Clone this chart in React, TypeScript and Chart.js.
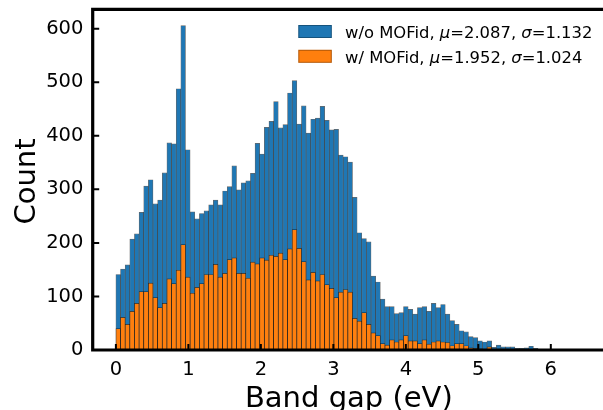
import React, { useEffect, useRef } from "react";
import { Chart, registerables } from "chart.js";

Chart.register(...registerables);

// Histogram bins
const BIN_START = 0;
const BIN_WIDTH = 0.064;

// Counts per bin (100 bins from 0 to 6.4 eV)
const COUNTS_WITHOUT_MOFID = [
  141, 151, 159, 207, 217, 257, 306, 318, 273, 280,
  331, 387, 385, 488, 606, 374, 258, 245, 255, 260,
  271, 280, 271, 297, 305, 344, 299, 312, 316, 330,
  386, 366, 416, 427, 464, 415, 421, 480, 503, 422,
  456, 405, 431, 433, 455, 429, 411, 412, 364, 361,
  351, 285, 219, 208, 202, 138, 127, 95, 81, 81,
  68, 70, 81, 76, 67, 79, 81, 72, 87, 79,
  85, 67, 55, 48, 36, 34, 25, 23, 17, 15,
  17, 5, 9, 6, 6, 6, 3, 3, 4, 7,
  3, 1, 0, 0, 0, 0, 0, 0, 0, 0,
];

const COUNTS_WITH_MOFID = [
  40, 61, 48, 72, 87, 109, 109, 125, 98, 79,
  87, 133, 124, 149, 197, 136, 106, 117, 124, 141,
  141, 160, 136, 143, 169, 172, 143, 143, 134, 164,
  161, 172, 168, 177, 175, 181, 169, 189, 225, 190,
  165, 131, 145, 129, 141, 122, 115, 98, 108, 113,
  108, 59, 54, 70, 48, 32, 27, 12, 9, 19,
  15, 19, 27, 17, 17, 12, 19, 11, 15, 17,
  15, 14, 8, 12, 12, 8, 4, 3, 2, 1,
  6, 1, 0, 1, 0, 0, 0, 0, 0, 0,
  0, 0, 0, 0, 0, 0, 0, 0, 0, 0,
];

const X_TICKS = [0, 1, 2, 3, 4, 5, 6];
const Y_TICKS = [0, 100, 200, 300, 400, 500, 600];
const X_MIN = -0.32;
const X_MAX = 6.72;
const Y_MIN = 0;
const Y_MAX = 636.3;

const SERIES_NAMES = ["w/o MOFid", "w/ MOFid"];
const SERIES_MU = ["2.087", "1.952"];
const SERIES_SIGMA = ["1.132", "1.024"];
const SERIES_COLORS = ["#1f77b4", "#ff7f0e"];

const X_TITLE = "Band gap (eV)";
const Y_TITLE = "Count";

const FONT = "'DejaVu Sans', sans-serif";

function toPoints(counts: number[]) {
  return counts.map((c, i) => ({ x: BIN_START + BIN_WIDTH * (i + 0.5), y: c }));
}

const decorPlugin = {
  id: "decor",
  afterDraw(chart: any) {
    const ctx = chart.ctx as CanvasRenderingContext2D;
    const area = chart.chartArea;
    const xs = chart.scales.x;
    const ys = chart.scales.y;
    ctx.save();
    ctx.strokeStyle = "#000";
    ctx.fillStyle = "#000";

    // tick marks (inward)
    ctx.lineWidth = 2;
    ctx.beginPath();
    for (const t of X_TICKS) {
      const px = xs.getPixelForValue(t);
      ctx.moveTo(px, area.bottom);
      ctx.lineTo(px, area.bottom - 6);
    }
    for (const t of Y_TICKS) {
      const py = ys.getPixelForValue(t);
      ctx.moveTo(area.left, py);
      ctx.lineTo(area.left + 6.5, py);
    }
    ctx.stroke();

    // spines (left, top, bottom)
    ctx.lineWidth = 3.2;
    ctx.beginPath();
    ctx.moveTo(area.left, area.bottom + 1.6);
    ctx.lineTo(area.left, area.top - 1.6);
    ctx.moveTo(area.left - 1.6, area.top);
    ctx.lineTo(area.right + 5, area.top);
    ctx.moveTo(area.left - 1.6, area.bottom);
    ctx.lineTo(area.right + 5, area.bottom);
    ctx.stroke();

    // axis titles
    ctx.font = `29px ${FONT}`;
    ctx.textAlign = "center";
    ctx.textBaseline = "alphabetic";
    ctx.fillText(X_TITLE, (area.left + area.right) / 2 + 1, 407);
    ctx.save();
    ctx.translate(34.5, 181.5);
    ctx.rotate(-Math.PI / 2);
    ctx.fillText(Y_TITLE, 0, 0);
    ctx.restore();

    // legend
    const boxX = 298.3;
    const boxW = 33.5;
    const boxH = 13;
    const textX = 345;
    const baselines = [37.7, 62.5];
    const fs = 16.4;
    for (let i = 0; i < SERIES_NAMES.length; i++) {
      const bl = baselines[i];
      const top = bl - 12.7;
      ctx.fillStyle = SERIES_COLORS[i];
      ctx.fillRect(boxX, top, boxW, boxH);
      ctx.strokeStyle = "rgba(0,0,0,0.3)";
      ctx.lineWidth = 1;
      ctx.strokeRect(boxX + 0.5, top + 0.5, boxW - 1, boxH - 1);
      ctx.fillStyle = "#000";
      ctx.textAlign = "left";
      ctx.textBaseline = "alphabetic";
      const segs: [string, boolean][] = [
        [SERIES_NAMES[i] + ", ", false],
        ["\u03bc", true],
        ["=" + SERIES_MU[i] + ", ", false],
        ["\u03c3", true],
        ["=" + SERIES_SIGMA[i], false],
      ];
      let x = textX;
      for (const [s, it] of segs) {
        ctx.font = `${it ? "oblique " : ""}${fs}px ${FONT}`;
        ctx.fillText(s, x, bl);
        x += ctx.measureText(s).width;
      }
    }
    ctx.restore();
  },
};

export default function App() {
  const ref = useRef<HTMLCanvasElement | null>(null);
  useEffect(() => {
    if (!ref.current) return;
    const chart = new Chart(ref.current, {
      type: "bar",
      data: {
        datasets: [
          {
            label: SERIES_NAMES[0],
            data: toPoints(COUNTS_WITHOUT_MOFID),
            backgroundColor: SERIES_COLORS[0],
            borderColor: "rgba(0,0,0,0.6)",
            borderWidth: 0.7,
            grouped: false,
            barPercentage: 1,
            categoryPercentage: 1,
            order: 2,
          } as any,
          {
            label: SERIES_NAMES[1],
            data: toPoints(COUNTS_WITH_MOFID),
            backgroundColor: SERIES_COLORS[1],
            borderColor: "rgba(0,0,0,0.6)",
            borderWidth: 0.7,
            grouped: false,
            barPercentage: 1,
            categoryPercentage: 1,
            order: 1,
          } as any,
        ],
      },
      options: {
        animation: false,
        responsive: false,
        devicePixelRatio: 1,
        layout: { padding: { left: 0, right: 0, top: 9.3, bottom: 0 } },
        plugins: {
          legend: { display: false },
          tooltip: { enabled: false },
        },
        scales: {
          x: {
            type: "linear",
            min: X_MIN,
            max: X_MAX,
            offset: false,
            grid: { display: false, drawTicks: false },
            border: { display: false },
            afterBuildTicks: (s: any) => {
              s.ticks = X_TICKS.map((v) => ({ value: v }));
            },
            afterFit: (s: any) => {
              s.height = 60;
              s.paddingLeft = 0;
              s.paddingRight = 0;
              s.paddingTop = 0;
              s.paddingBottom = 0;
            },
            ticks: {
              autoSkip: false,
              maxRotation: 0,
              padding: 8.5,
              color: "#000",
              font: { family: FONT, size: 19.5 },
              callback: (v: any) => String(v),
            },
          },
          y: {
            type: "linear",
            min: Y_MIN,
            max: Y_MAX,
            grid: { display: false, drawTicks: false },
            border: { display: false },
            afterBuildTicks: (s: any) => {
              s.ticks = Y_TICKS.map((v) => ({ value: v }));
            },
            afterFit: (s: any) => {
              s.width = 92.7;
              s.paddingLeft = 0;
              s.paddingRight = 0;
              s.paddingTop = 0;
              s.paddingBottom = 0;
            },
            ticks: {
              padding: 9.3,
              color: "#000",
              font: { family: FONT, size: 19.5 },
              callback: (v: any) => String(v),
            },
          },
        },
      } as any,
      plugins: [decorPlugin],
    });
    return () => chart.destroy();
  }, []);
  return (
    <div style={{ position: "absolute", left: 0, top: 0, width: 603, height: 410, background: "#fff" }}>
      <canvas ref={ref} width={603} height={410} style={{ display: "block" }} />
    </div>
  );
}
